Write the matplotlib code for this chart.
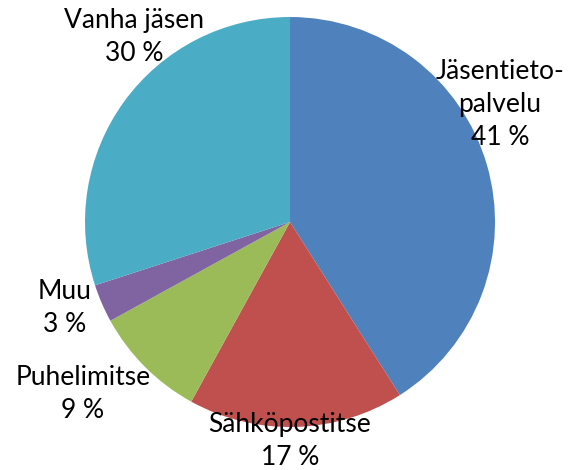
import matplotlib.pyplot as plt

labels = ["Jäsentieto-\npalvelu", "Sähköpostitse", "Puhelimitse", "Muu", "Vanha jäsen"]
values = [41, 17, 9, 3, 30]
colors = ["#4F81BD", "#C0504D", "#9BBB59", "#8064A2", "#4BACC6"]

# label centres in pie units (radius = 1)
label_pos = [(1.024, 0.571), (0.0, -1.068), (-1.01, -0.839), (-1.10, -0.42), (-0.761, 0.902)]

plt.rcParams['font.family'] = ['Lato', 'DejaVu Sans']

fig = plt.figure(figsize=(5.69, 4.70), dpi=100)
ax = fig.add_axes([0.1494, 0.0915, 0.7206, 0.8723])

ax.pie(values, colors=colors, startangle=90, counterclock=False,
       radius=1, wedgeprops=dict(linewidth=0))

for lab, v, (x, y) in zip(labels, values, label_pos):
    ax.text(x, y, f"{lab}\n{v} %", ha='center', va='center',
            fontsize=19, color='black', linespacing=1.4)

ax.set_xlim(-1, 1)
ax.set_ylim(-1, 1)
ax.set_aspect('auto')
ax.axis('off')

plt.savefig("out.png", dpi=100)
